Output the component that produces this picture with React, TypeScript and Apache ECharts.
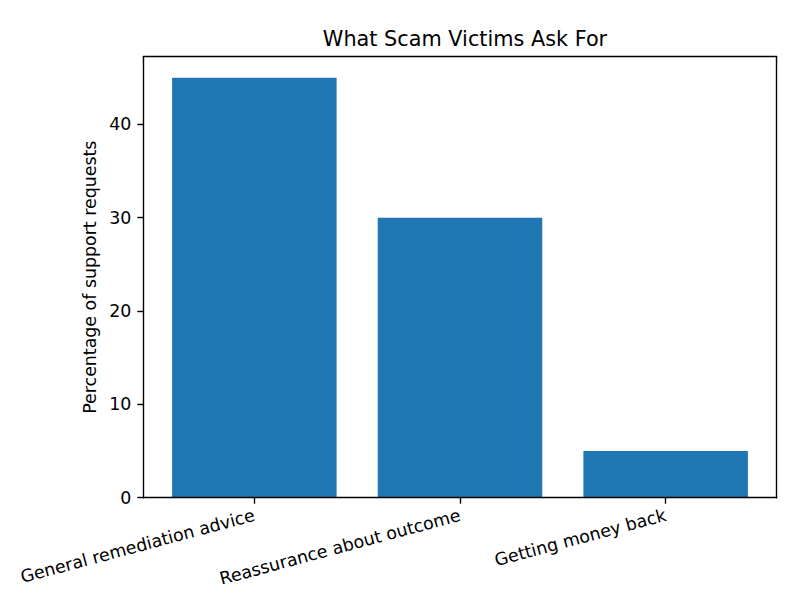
import { useEffect, useRef } from 'react';
import * as echarts from 'echarts';

const categories = ['General remediation advice', 'Reassurance about outcome', 'Getting money back'];
const percentages = [45, 30, 5];
const yTickStep = 10;
const yMax = 47.25;

const FONT = 'DejaVu Sans';
const INK = '#000';
const BAR = '#1f77b4';

// axes box in pixels (matplotlib figure 6.4x4.8 @125 dpi)
const boxLeft = 143.3;
const boxTop = 56.7;
const boxWidth = 633.4;
const boxHeight = 441;
// x range -0.54 .. 2.54 -> 3.08 units, categories take 3 of them
const pxPerUnit = boxWidth / 3.08;
const catLeft = boxLeft + 0.04 * pxPerUnit;

export default function App() {
  const chartRef = useRef<HTMLDivElement>(null);

  useEffect(() => {
    document.body.style.margin = '0';
    if (!chartRef.current) return;
    const chart = echarts.init(chartRef.current, null, { renderer: 'svg' });
    const frameLine = { show: true, onZero: false, lineStyle: { color: INK, width: 1.4 } };
    chart.setOption({
      animation: false,
      backgroundColor: '#fff',
      textStyle: { fontFamily: FONT },
      title: {
        text: 'What Scam Victims Ask For',
        left: boxLeft + boxWidth / 2,
        textAlign: 'center',
        top: 23,
        textStyle: { fontFamily: FONT, fontSize: 20.8, fontWeight: 'normal', color: INK },
      },
      grid: [
        { left: catLeft, top: boxTop, width: 3 * pxPerUnit, height: boxHeight, containLabel: false },
        { left: boxLeft, top: boxTop, width: boxWidth, height: boxHeight, containLabel: false },
      ],
      xAxis: [
        {
          type: 'category',
          gridIndex: 0,
          data: categories,
          boundaryGap: true,
          axisLine: { show: false },
          axisTick: { show: true, alignWithLabel: true, length: 6, lineStyle: { color: INK, width: 1.4 } },
          axisLabel: { rotate: 15, margin: 17, fontSize: 17.4, color: INK, fontFamily: FONT, interval: 0 },
          splitLine: { show: false },
        },
        {
          type: 'value', gridIndex: 1, position: 'bottom', min: 0, max: 1, z: 5,
          axisLine: frameLine, axisTick: { show: false }, axisLabel: { show: false }, splitLine: { show: false },
        },
        {
          type: 'value', gridIndex: 1, position: 'top', min: 0, max: 1, z: 5,
          axisLine: frameLine, axisTick: { show: false }, axisLabel: { show: false }, splitLine: { show: false },
        },
      ],
      yAxis: [
        { type: 'value', gridIndex: 0, min: 0, max: yMax, show: false },
        {
          type: 'value',
          gridIndex: 1,
          position: 'left',
          min: 0,
          max: yMax,
          interval: yTickStep,
          z: 5,
          name: 'Percentage of support requests',
          nameLocation: 'middle',
          nameRotate: 90,
          nameGap: 40,
          nameTextStyle: { fontSize: 17.4, color: INK, fontFamily: FONT },
          axisLine: frameLine,
          axisTick: { show: true, length: 6, lineStyle: { color: INK, width: 1.4 } },
          axisLabel: { margin: 12, fontSize: 17.4, color: INK, fontFamily: FONT, showMaxLabel: false },
          splitLine: { show: false },
        },
        {
          type: 'value', gridIndex: 1, position: 'right', min: 0, max: 1, z: 5,
          axisLine: frameLine, axisTick: { show: false }, axisLabel: { show: false }, splitLine: { show: false },
        },
      ],
      series: [
        {
          type: 'bar',
          xAxisIndex: 0,
          yAxisIndex: 0,
          data: percentages,
          barWidth: '80%',
          itemStyle: { color: BAR },
        },
      ],
    });
    return () => {
      chart.dispose();
    };
  }, []);

  return <div ref={chartRef} style={{ width: 801, height: 602 }}></div>;
}
